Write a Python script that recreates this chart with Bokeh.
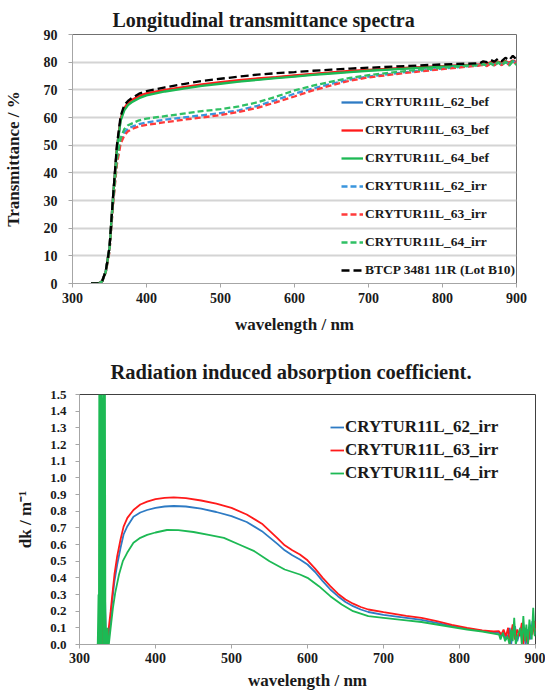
from bokeh.plotting import figure
from bokeh.layouts import column
from bokeh.models import Legend, LegendItem, FixedTicker, NumeralTickFormatter
from bokeh.embed import file_html
from bokeh.resources import INLINE

FONT = "'Liberation Serif', serif"

# ---------------- Top chart data: transmittance (%) ----------------
wl_T = [325, 335, 340, 345, 350, 355, 360, 365, 370, 375, 380,
        390, 400, 425, 450, 475, 500, 525, 550, 575, 600, 625, 650, 675, 700, 750, 800, 850,
        855, 860, 865, 870, 875, 880, 885, 890, 895, 900]
T_62_bef = [0, 0, 0.8, 4.5, 13, 32, 49, 59.3, 63.2, 65.0, 66.0,
            67.5, 68.4, 69.7, 70.7, 71.7, 72.5, 73.2, 73.8, 74.4, 75.0, 75.6, 76.1, 76.6, 77.0, 77.8, 78.5, 79.1,
            79.4, 79.0, 79.8, 79.2, 80.0, 79.4, 80.2, 79.5, 80.4, 79.8]
T_63_bef = [0, 0, 0.8, 4.5, 13, 32, 49, 59.5, 63.5, 65.3, 66.3,
            67.8, 68.7, 70.0, 71.0, 72.0, 72.8, 73.5, 74.1, 74.6, 75.2, 75.8, 76.3, 76.8, 77.2, 77.9, 78.6, 79.2,
            79.6, 79.3, 80.0, 79.5, 80.2, 79.7, 80.4, 79.8, 80.6, 80.0]
T_64_bef = [0, 0, 0.8, 4.5, 13, 32, 48.5, 58.8, 62.6, 64.5, 65.5,
            67.0, 68.0, 69.4, 70.4, 71.4, 72.2, 73.0, 73.6, 74.2, 74.8, 75.4, 75.9, 76.4, 76.9, 77.7, 78.4, 79.0,
            79.3, 78.8, 79.7, 79.0, 80.1, 79.2, 80.3, 79.1, 80.5, 79.4]
T_62_irr = [0, 0, 0.7, 4.2, 12, 30, 44, 51.5, 54.5, 56.0, 56.6,
            57.6, 58.2, 59.2, 60.0, 60.8, 61.6, 62.6, 64.2, 66.3, 68.6, 70.5, 72.2, 73.7, 74.8, 76.4, 77.7, 78.9,
            79.2, 78.8, 79.6, 78.9, 79.8, 79.0, 80.2, 79.1, 80.4, 79.5]
T_63_irr = [0, 0, 0.7, 4.0, 11.5, 29, 43, 50.5, 53.5, 55.0, 55.8,
            56.8, 57.3, 58.3, 59.2, 60.0, 60.9, 62.0, 63.5, 65.5, 67.6, 69.8, 71.6, 73.3, 74.5, 76.1, 77.5, 78.8,
            79.0, 78.6, 79.5, 78.8, 79.9, 78.9, 80.1, 79.0, 80.3, 79.4]
T_64_irr = [0, 0, 0.7, 4.2, 12, 30, 45, 52.5, 55.8, 57.2, 57.8,
            59.0, 59.6, 60.5, 61.4, 62.3, 63.0, 64.0, 65.5, 67.5, 69.8, 71.5, 73.0, 74.3, 75.3, 76.8, 78.0, 79.0,
            79.3, 78.7, 79.6, 78.6, 79.9, 78.8, 80.1, 78.7, 80.3, 79.0]
T_btcp = [0, 0, 0.8, 4.5, 13, 32, 50, 60.5, 64.5, 66.0, 67.0,
          68.6, 69.5, 70.9, 72.1, 73.2, 74.0, 74.8, 75.5, 76.0, 76.4, 76.9, 77.3, 77.7, 78.0, 78.6, 79.2, 79.6,
          80.3, 80.0, 80.8, 80.2, 81.3, 80.4, 81.6, 80.7, 82.3, 81.0]
top_labels = ["CRYTUR11L_62_bef", "CRYTUR11L_63_bef", "CRYTUR11L_64_bef",
              "CRYTUR11L_62_irr", "CRYTUR11L_63_irr", "CRYTUR11L_64_irr",
              "BTCP 3481 11R (Lot B10)"]
top_y_ticks = [0, 10, 20, 30, 40, 50, 60, 70, 80, 90]
x_ticks = [300, 400, 500, 600, 700, 800, 900]

# ---------------- Bottom chart data: dk (1/m) ----------------
mid_wl_rb = [341, 343, 346, 349.6, 354, 358, 363, 371, 380, 389, 400, 412, 424, 440, 460, 480, 500, 520,
             540, 560, 570, 580, 590, 600, 610, 620, 630, 640, 650, 660, 670, 680, 700, 730, 750, 770,
             790, 810, 830, 845]

red_left_wl = [324, 326, 328, 330, 331, 333, 335, 337, 338.5]
red_left_dk = [0.0, 0.05, 0.2, 0.39, 0.0, 0.15, 0.0, 0.05, 0.10]
red_mid_dk = [0.2, 0.29, 0.42, 0.53, 0.63, 0.707, 0.76, 0.807, 0.84, 0.857, 0.872, 0.88, 0.883, 0.878,
              0.864, 0.845, 0.82, 0.78, 0.725, 0.64, 0.595, 0.565, 0.54, 0.505, 0.455, 0.40, 0.35, 0.305,
              0.27, 0.245, 0.225, 0.21, 0.194, 0.172, 0.16, 0.14, 0.118, 0.1, 0.085, 0.078]
red_tail_wl = [852, 855, 858, 861, 864, 866, 868, 870, 873, 876, 879, 882, 884, 886, 888, 890, 893, 896, 899, 900]
red_tail_dk = [0.08, 0.06, 0.09, 0.05, 0.1, 0.0, 0.07, 0.12, 0.03, 0.09, 0.05, 0.13, 0.0, 0.1, 0.04, 0.0,
               0.11, 0.06, 0.14, 0.08]

blue_left_wl = [324, 326, 327, 329, 330, 331, 333, 335, 337, 338.5]
blue_left_dk = [0.0, 0.1, 0.3, 0.0, 1.0, 0.1, 0.4, 0.0, 0.02, 0.05]
blue_mid_dk = [0.15, 0.26, 0.38, 0.48, 0.58, 0.66, 0.71, 0.767, 0.792, 0.807, 0.82, 0.828, 0.831, 0.828,
               0.815, 0.795, 0.77, 0.735, 0.68, 0.605, 0.565, 0.535, 0.51, 0.48, 0.435, 0.38, 0.33, 0.29,
               0.255, 0.23, 0.21, 0.195, 0.178, 0.16, 0.148, 0.13, 0.11, 0.095, 0.082, 0.072]
blue_tail_wl = [852, 855, 858, 861, 864, 866, 868, 870, 873, 876, 879, 882, 884, 887, 890, 893, 896, 900]
blue_tail_dk = [0.07, 0.05, 0.08, 0.03, 0.06, 0.1, 0.0, 0.08, 0.11, 0.02, 0.07, 0.05, 0.12, 0.0, 0.09,
                0.03, 0.14, 0.06]

green_left_wl = [324, 325, 325.5, 326, 327, 327.5, 328, 329, 329.5, 330, 331, 331.5, 332, 333, 333.5,
                 334, 335, 336, 337, 338, 338.6]
green_left_dk = [0.0, 0.3, 0.0, 1.5, 0.6, 0.0, 1.5, 0.0, 1.5, 0.5, 1.48, 0.0, 1.5, 0.0, 1.5,
                 0.2, 0.0, 0.0, 0.1, 0.0, 0.0]
green_mid_wl = [341, 344, 347, 352, 357, 362.7, 371, 380, 389, 400, 415, 430, 450, 470, 490, 510, 530,
                550, 570, 590, 600, 615, 630, 645, 660, 680, 700, 730, 750, 770, 790, 810, 830, 845]
green_mid_dk = [0.1, 0.22, 0.31, 0.42, 0.50, 0.55, 0.61, 0.64, 0.658, 0.672, 0.687, 0.686, 0.675, 0.658,
                0.64, 0.60, 0.56, 0.50, 0.45, 0.42, 0.40, 0.35, 0.29, 0.24, 0.20, 0.17, 0.16, 0.145,
                0.135, 0.12, 0.105, 0.09, 0.078, 0.065]
green_tail_wl = [852, 854, 857, 860, 863, 866, 868, 870, 872, 874, 877, 880, 882, 884, 886, 888, 890,
                 892, 895, 897, 899, 900]
green_tail_dk = [0.06, 0.03, 0.07, 0.02, 0.05, 0.0, 0.09, 0.02, 0.16, 0.0, 0.06, 0.1, 0.0, 0.17, 0.02,
                 0.12, 0.0, 0.15, 0.03, 0.22, 0.05, 0.10]

bottom_labels = ["CRYTUR11L_62_irr", "CRYTUR11L_63_irr", "CRYTUR11L_64_irr"]
bottom_y_ticks = [round(0.1 * i, 1) for i in range(16)]

BLUE = "#2e7bc4"
RED = "#ff1a1a"
GREEN = "#1db954"
BLUE_L = "#3a95dd"
RED_L = "#ff3b3b"
GREEN_L = "#2fc064"


def style_axes(p, ylabel, y_ticks, fmt=None, ylab_standoff=16, ytick_standoff=10):
    for ax in (p.xaxis[0], p.yaxis[0]):
        ax.axis_line_color = "#a6a6a6"
        ax.major_tick_line_color = "#a6a6a6"
        ax.minor_tick_line_color = None
        ax.major_tick_out = 4
        ax.major_tick_in = 0
        ax.major_label_text_font = FONT
        ax.major_label_text_font_style = "bold"
        ax.major_label_text_font_size = "14px"
        ax.major_label_text_color = "#1a1a1a"
        ax.axis_label_text_font = FONT
        ax.axis_label_text_font_style = "bold"
        ax.axis_label_text_font_size = "17px"
        ax.axis_label_text_color = "#1a1a1a"
    p.xaxis.ticker = FixedTicker(ticks=x_ticks)
    p.yaxis.ticker = FixedTicker(ticks=y_ticks)
    if fmt:
        p.yaxis.formatter = NumeralTickFormatter(format=fmt)
    p.xaxis.axis_label = "wavelength / nm"
    p.yaxis.axis_label = ylabel
    p.yaxis.axis_label_standoff = ylab_standoff
    p.yaxis.major_label_standoff = ytick_standoff
    p.xaxis.major_label_standoff = 5
    p.xaxis.axis_label_standoff = 9
    p.title.text_font = FONT
    p.title.text_font_style = "bold"
    p.title.text_font_size = "20px"
    p.title.align = "left"
    p.title.text_color = "#1a1a1a"


# ---------------- Top figure ----------------
p1 = figure(width=545, height=345, x_range=(300, 900), y_range=(0, 90),
            output_backend="svg", toolbar_location=None,
            title="Longitudinal transmittance spectra", frame_align=False,
            min_border_left=66, min_border_right=29, min_border_top=34, min_border_bottom=62)
style_axes(p1, "Transmittance / %", top_y_ticks, ylab_standoff=18, ytick_standoff=11)
p1.title.offset = 40
p1.title.standoff = 8
p1.xgrid.grid_line_color = None
p1.ygrid.grid_line_color = "#d4d4d4"
p1.ygrid.grid_line_width = 2
p1.outline_line_color = "#707070"
p1.outline_line_width = 1

top_series = [
    (T_62_bef, BLUE, "solid"), (T_63_bef, RED, "solid"), (T_64_bef, GREEN, "solid"),
    (T_62_irr, BLUE_L, "6 3"), (T_63_irr, RED_L, "6 3"), (T_64_irr, GREEN_L, "6 3"),
    (T_btcp, "#000000", "8 4"),
]
items1 = []
for (vals, col, dash), lab in zip(top_series, top_labels):
    r = p1.line(wl_T, vals, line_color=col, line_width=2.3, line_dash=dash)
    items1.append(LegendItem(label=lab, renderers=[r]))
leg1 = Legend(items=items1, location=(269, 3), background_fill_alpha=0, border_line_color=None,
              padding=0, margin=0, spacing=8, glyph_height=20, glyph_width=22, label_height=20,
              label_standoff=2, label_text_font=FONT, label_text_font_style="bold",
              label_text_font_size="13.5px", label_text_color="#1a1a1a")
p1.add_layout(leg1)

# ---------------- Bottom figure ----------------
p2 = figure(width=545, height=348, x_range=(300, 900), y_range=(0, 1.5),
            output_backend="svg", toolbar_location=None,
            title="Radiation induced absorption coefficient.", frame_align=False,
            min_border_left=79, min_border_right=10, min_border_top=49, min_border_bottom=49)
style_axes(p2, "dk / m\u207b\u00b9", bottom_y_ticks, fmt="0.0", ylab_standoff=12, ytick_standoff=9)
p2.yaxis.major_label_text_font_size = "13px"
p2.xaxis.axis_label_standoff = 5
p2.xaxis.major_label_standoff = 4
p2.title.text_font_size = "20.5px"
p2.title.offset = 31
p2.title.standoff = 24
p2.xgrid.grid_line_color = None
p2.ygrid.grid_line_color = None
p2.outline_line_color = "#404040"
p2.outline_line_width = 1

blue_wl = blue_left_wl + mid_wl_rb + blue_tail_wl
blue_dk = blue_left_dk + blue_mid_dk + blue_tail_dk
red_wl = red_left_wl + mid_wl_rb + red_tail_wl
red_dk = red_left_dk + red_mid_dk + red_tail_dk
green_wl = green_left_wl + green_mid_wl + green_tail_wl
green_dk = green_left_dk + green_mid_dk + green_tail_dk

items2 = []
for (wl, dk, col), lab in zip([(blue_wl, blue_dk, BLUE), (red_wl, red_dk, RED), (green_wl, green_dk, GREEN)],
                              bottom_labels):
    r = p2.line(wl, dk, line_color=col, line_width=1.8)
    items2.append(LegendItem(label=lab, renderers=[r]))
leg2 = Legend(items=items2, location=(251, 161), background_fill_alpha=0, border_line_color=None,
              padding=0, margin=0, spacing=3, glyph_height=20, glyph_width=14, label_height=20,
              label_standoff=1, label_text_font=FONT, label_text_font_style="bold",
              label_text_font_size="17px", label_text_color="#1a1a1a")
p2.add_layout(leg2)

layout = column(p1, p2, spacing=0)
open("out.html", "w").write(file_html(layout, INLINE))
